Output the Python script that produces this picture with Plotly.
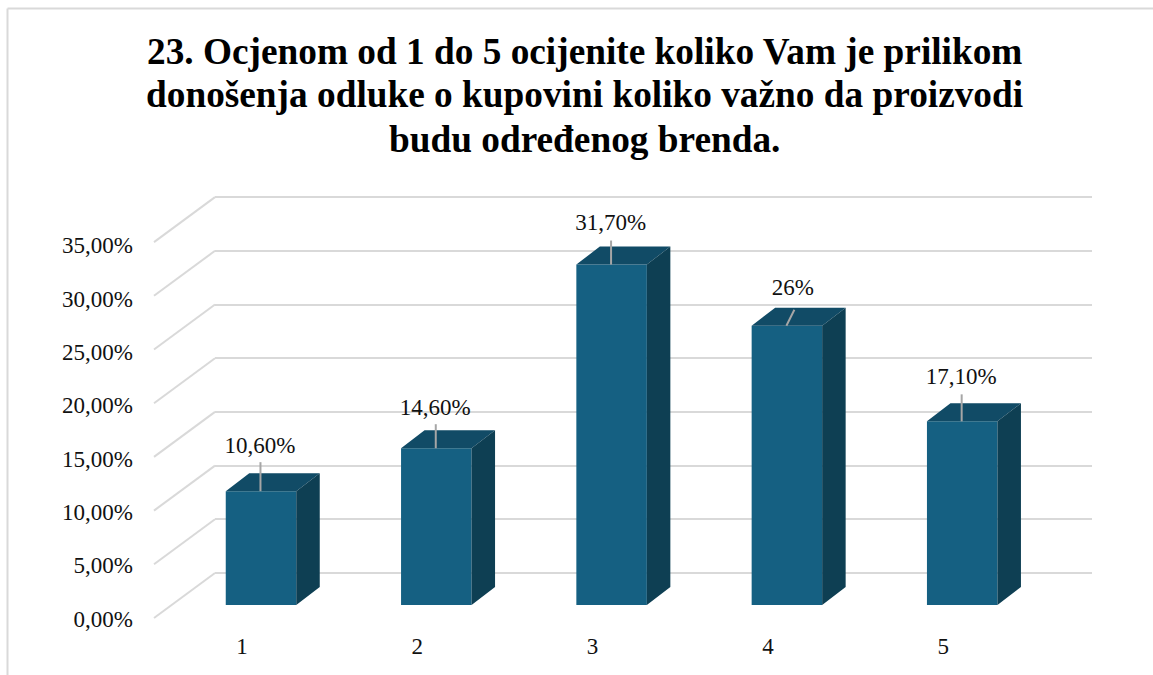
import plotly.graph_objects as go

# chart values (percent)
categories = [1, 2, 3, 4, 5]
values = [10.6, 14.6, 31.7, 26, 17.1]
value_labels = ['10,60%', '14,60%', '31,70%', '26%', '17,10%']
y_ticks = [0, 5, 10, 15, 20, 25, 30, 35]
y_tick_labels = ['0,00%', '5,00%', '10,00%', '15,00%', '20,00%', '25,00%', '30,00%', '35,00%']

title_lines = ['23. Ocjenom od 1 do 5 ocijenite koliko Vam je prilikom',
               'donošenja odluke o kupovini koliko važno da proizvodi',
               'budu određenog brenda.']

W, H = 1153, 675
PX_PER_CAT = 175.3
PX_PER_PCT = 10.74
LABEL_PX_PER_PCT = 10.66         # tick labels sit slightly closer than the gridlines
FONT = 'Liberation Serif'

GRID = '#d9d9d9'
FRONT = '#156082'
TOP = '#114B66'
SIDE = '#0E3F53'
LEADER = '#a6a6a6'

# pseudo 3D geometry, in pixels of the page
BAR_X0, BAR_Y0 = 261, 605        # centre of first bar, floor of the bars
BACK_Y0 = 573                    # zero on the back wall
FRONT_Y0 = 618                   # zero on the front edge
WALL_X0, WALL_X1 = 215, 1092
EDGE_X = 154
BAR_W = 70.5
DEPTH_X, DEPTH_Y = 23.5, 18
TITLE_Y = [52, 95, 140]          # centre of each title line


def xrange_for(px_at_one):
    return [1 - px_at_one / PX_PER_CAT, 1 + (W - px_at_one) / PX_PER_CAT]


def yrange_for(px_at_zero, scale=PX_PER_PCT):
    return [(px_at_zero - H) / scale, px_at_zero / scale]


def px_x(px):
    return 1 + (px - BAR_X0) / PX_PER_CAT


def py_y(py):
    return (BAR_Y0 - py) / PX_PER_PCT


half = BAR_W / 2 / PX_PER_CAT
dx = DEPTH_X / PX_PER_CAT
dy = DEPTH_Y / PX_PER_PCT

fig = go.Figure()

# empty traces so the wall axes and the tick label axes get drawn
fig.add_trace(go.Scatter(x=[0.5], y=[0], mode='markers', marker=dict(size=1, opacity=0),
                         xaxis='x', yaxis='y', hoverinfo='skip'))

# slanted part of the gridlines, from the front edge to the back wall
diag_x, diag_y = [], []
for t in y_ticks:
    diag_x += [px_x(EDGE_X), px_x(WALL_X0), None]
    diag_y += [py_y(FRONT_Y0) + t, py_y(BACK_Y0) + t, None]
fig.add_trace(go.Scatter(x=diag_x, y=diag_y, mode='lines', xaxis='x2', yaxis='y2',
                         line=dict(color=GRID, width=2), hoverinfo='skip'))

# front faces
fig.add_trace(go.Bar(x=categories, y=values, width=2 * half, xaxis='x2', yaxis='y2',
                     marker=dict(color=FRONT, line=dict(width=0))))

# top and side faces
top_x, top_y, side_x, side_y = [], [], [], []
for c, v in zip(categories, values):
    top_x += [c - half, c + half, c + half + dx, c - half + dx, c - half, None]
    top_y += [v, v, v + dy, v + dy, v, None]
    side_x += [c + half, c + half + dx, c + half + dx, c + half, c + half, None]
    side_y += [0, dy, v + dy, v, 0, None]
fig.add_trace(go.Scatter(x=top_x, y=top_y, mode='lines', fill='toself', fillcolor=TOP,
                         xaxis='x2', yaxis='y2', line=dict(width=0), hoverinfo='skip'))
fig.add_trace(go.Scatter(x=side_x, y=side_y, mode='lines', fill='toself', fillcolor=SIDE,
                         xaxis='x2', yaxis='y2', line=dict(width=0), hoverinfo='skip'))

# leader lines and data labels, offsets in pixels above the bar top
label_dx = [-1, -1, -1, 6, -1]
label_dy = [44, 39, 40, 37, 43]
leader_dx = [0, 0, 0, 8, 0]
leader_dy = [29, 24, 24, 16, 27]
lead_x, lead_y = [], []
for c, v, ldx, ldy in zip(categories, values, leader_dx, leader_dy):
    lead_x += [c - 0.003, c - 0.003 + ldx / PX_PER_CAT, None]
    lead_y += [v, v + ldy / PX_PER_PCT, None]
fig.add_trace(go.Scatter(x=lead_x, y=lead_y, mode='lines', xaxis='x2', yaxis='y2',
                         line=dict(color=LEADER, width=2), hoverinfo='skip'))
fig.add_trace(go.Scatter(
    x=[c + d / PX_PER_CAT for c, d in zip(categories, label_dx)],
    y=[v + d / PX_PER_PCT for v, d in zip(values, label_dy)],
    text=value_labels, mode='text', textposition='middle center',
    xaxis='x2', yaxis='y2', textfont=dict(family=FONT, size=23, color='#111111'),
    hoverinfo='skip'))

# tick label axes need something on them too
fig.add_trace(go.Scatter(x=categories, y=values, mode='markers', marker=dict(size=1, opacity=0),
                         xaxis='x3', yaxis='y3', hoverinfo='skip'))

fig.update_layout(
    width=W, height=H,
    autosize=False,
    paper_bgcolor='white',
    plot_bgcolor='rgba(0,0,0,0)',
    showlegend=False,
    margin=dict(l=0, r=0, t=0, b=0),
    font=dict(family=FONT, color='#111111'),
    # back wall: the real gridlines
    xaxis=dict(domain=[WALL_X0 / W, WALL_X1 / W], range=[0, 1], visible=False),
    yaxis=dict(domain=[0, 1], range=yrange_for(BACK_Y0), tickvals=y_ticks, showgrid=True,
               gridcolor=GRID, gridwidth=2, zeroline=False, showticklabels=False,
               showline=False, ticks=''),
    # plane of the bars
    xaxis2=dict(domain=[0, 1], range=xrange_for(BAR_X0), visible=False, anchor='y2'),
    yaxis2=dict(domain=[0, 1], range=yrange_for(BAR_Y0), visible=False, anchor='x2'),
    # front edge: tick labels
    xaxis3=dict(overlaying='x2', range=xrange_for(BAR_X0 - 19), tickvals=categories,
                showgrid=False, zeroline=False, showline=False, ticks='',
                anchor='free', position=1 - 630 / H, side='bottom',
                tickfont=dict(family=FONT, size=23, color='#111111')),
    yaxis3=dict(overlaying='y2', range=yrange_for(FRONT_Y0 + 0.5, LABEL_PX_PER_PCT), tickvals=y_ticks,
                ticktext=y_tick_labels, showgrid=False, zeroline=False,
                showline=False, ticks='', anchor='free', position=133 / W, side='left',
                tickfont=dict(family=FONT, size=23, color='#111111')),
    annotations=[
        dict(text='<b>%s</b>' % line, xref='paper', yref='paper', x=584 / W, y=1 - py / H,
             xanchor='center', yanchor='middle', showarrow=False,
             font=dict(family=FONT, size=37.3, color='black'))
        for line, py in zip(title_lines, TITLE_Y)
    ],
    shapes=[
        dict(type='line', xref='paper', yref='paper', x0=7.5 / W, x1=1, y0=1 - 8.5 / H, y1=1 - 8.5 / H,
             line=dict(color=GRID, width=2)),
        dict(type='line', xref='paper', yref='paper', x0=7.5 / W, x1=7.5 / W, y0=0, y1=1 - 8.5 / H,
             line=dict(color=GRID, width=2)),
    ],
)

# the page margin would push the whole chart 8px down and right
fig.write_html("out.html", config={'displayModeBar': False},
               post_script="document.body.style.margin='0';document.body.style.overflow='hidden';")
